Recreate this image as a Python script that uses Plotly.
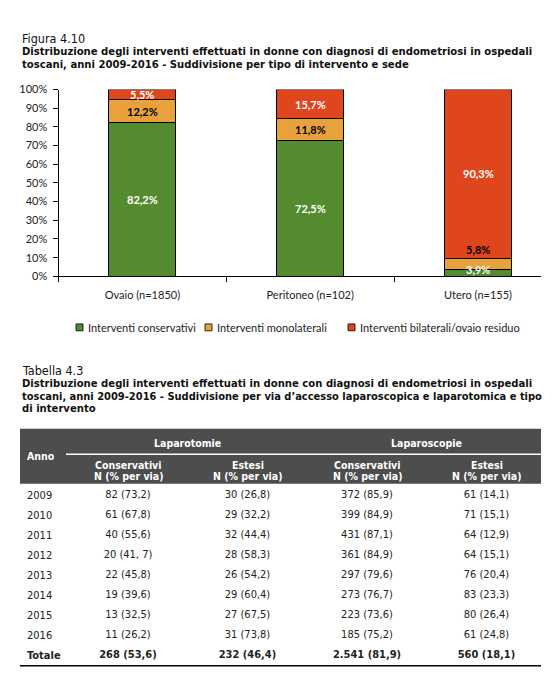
import plotly.graph_objects as go

# ---------------- data ----------------
categories = ["Ovaio (n=1850)", "Peritoneo (n=102)", "Utero (n=155)"]
series_names = ["Interventi conservativi", "Interventi monolaterali",
                "Interventi bilaterali/ovaio residuo"]
conservativi = [82.2, 72.5, 3.9]
monolaterali = [12.2, 11.8, 5.8]
bilaterali = [5.5, 15.7, 90.3]
y_tick_vals = [0, 10, 20, 30, 40, 50, 60, 70, 80, 90, 100]

table_rows = ["2009", "2010", "2011", "2012", "2013", "2014", "2015", "2016", "Totale"]
lapt_cons = ["82 (73,2)", "61 (67,8)", "40 (55,6)", "20 (41, 7)", "22 (45,8)",
             "19 (39,6)", "13 (32,5)", "11 (26,2)", "268 (53,6)"]
lapt_est = ["30 (26,8)", "29 (32,2)", "32 (44,4)", "28 (58,3)", "26 (54,2)",
            "29 (60,4)", "27 (67,5)", "31 (73,8)", "232 (46,4)"]
lsc_cons = ["372 (85,9)", "399 (84,9)", "431 (87,1)", "361 (84,9)", "297 (79,6)",
            "273 (76,7)", "223 (73,6)", "185 (75,2)", "2.541 (81,9)"]
lsc_est = ["61 (14,1)", "71 (15,1)", "64 (12,9)", "64 (15,1)", "76 (20,4)",
           "83 (23,3)", "80 (26,4)", "61 (24,8)", "560 (18,1)"]
group_headers = ["Laparotomie", "Laparoscopie"]
sub_headers = ["Conservativi", "Estesi", "Conservativi", "Estesi"]

# ---------------- style ----------------
W, H = 556, 675
series_colors = ["#558B2F", "#E9A23B", "#E0461E"]
label_colors = ["white", "black", "white"]
CHART_FONT = "Lato, 'Open Sans', sans-serif"
DOC_FONT = "'DejaVu Sans Condensed', 'Liberation Sans', sans-serif"
HEADER_BG = "#4D4D4D"


def px(x):
    return x / W


def py(y):
    return 1 - y / H


fig = go.Figure()

# stacked bars
series = [conservativi, monolaterali, bilaterali]
for name, vals, col in zip(series_names, series, series_colors):
    fig.add_trace(go.Bar(
        x=categories, y=vals, name=name, width=0.4,
        marker=dict(color=col, line=dict(color="black", width=1)),
        showlegend=False, hoverinfo="skip", xaxis="x", yaxis="y"))

annotations = []
# bar labels
for i, cat in enumerate(categories):
    base = 0.0
    for j, vals in enumerate(series):
        v = vals[i]
        txt = f"{v:.1f}".replace(".", ",") + "%"
        ann = dict(x=cat, y=base + v / 2, xref="x", yref="y", text=f"<b>{txt}</b>",
                   showarrow=False, font=dict(family=CHART_FONT, size=11, color=label_colors[j]))
        if v < 7 and j == 1:
            ann.update(y=base + v, yanchor="bottom", yshift=0)
        elif v < 7 and j == 0:
            ann.update(yshift=3)
        annotations.append(ann)
        base += v

# manual legend
legend_text_x = [78, 207, 350]
for name, col, tx in zip(series_names, series_colors, legend_text_x):
    fig.add_shape(type="rect", xref="paper", yref="paper",
                  x0=px(tx - 10), x1=px(tx - 3), y0=py(322), y1=py(315),
                  fillcolor=col, line=dict(color="black", width=0.8))
    annotations.append(dict(x=px(tx), y=py(318.5), xref="paper", yref="paper",
                            xanchor="left", yanchor="middle", text=name, showarrow=False,
                            font=dict(family=CHART_FONT, size=11, color="#222")))

# titles
title_lines = [
    ("Figura 4.10", 23.5, False, 12.5),
    ("Distribuzione degli interventi effettuati in donne con diagnosi di endometriosi in ospedali", 37.5, True, 11.2),
    ("toscani, anni 2009-2016 - Suddivisione per tipo di intervento e sede", 50.5, True, 11.2),
    ("Tabella 4.3", 362, False, 12.5),
    ("Distribuzione degli interventi effettuati in donne con diagnosi di endometriosi in ospedali", 375.5, True, 11.2),
    ("toscani, anni 2009-2016 - Suddivisione per via d\u2019accesso laparoscopica e laparotomica e tipo", 388.5, True, 11),
    ("di intervento", 401, True, 11.2),
]
for txt, yy, bold, sz in title_lines:
    annotations.append(dict(x=px(12), y=py(yy), xref="paper", yref="paper", xanchor="left",
                            yanchor="middle", showarrow=False,
                            text=f"<b>{txt}</b>" if bold else txt,
                            font=dict(family=DOC_FONT, size=sz, color="#111")))

# table header
fig.add_shape(type="rect", xref="paper", yref="paper", x0=px(12), x1=px(533),
              y0=py(478), y1=py(422), fillcolor=HEADER_BG, line=dict(width=0), layer="below")
fig.add_shape(type="line", xref="paper", yref="paper", x0=px(58), x1=px(533),
              y0=py(448), y1=py(448), line=dict(color="white", width=1.5))
fig.add_shape(type="line", xref="paper", yref="paper", x0=px(12), x1=px(533),
              y0=py(663.5), y1=py(663.5), line=dict(color="black", width=1.5))

hdr_font = dict(family=DOC_FONT, size=10.5, color="white")
annotations.append(dict(x=px(17), y=py(450), xref="paper", yref="paper", xanchor="left",
                        yanchor="middle", text="<b>Anno</b>", showarrow=False, font=hdr_font))
for g, gx in zip(group_headers, [1.5, 3.5]):
    annotations.append(dict(x=gx, y=py(436), xref="x2", yref="paper", yanchor="middle",
                            text=f"<b>{g}</b>", showarrow=False, font=hdr_font))
for k, sh in enumerate(sub_headers):
    annotations.append(dict(x=k + 1, y=py(458.5), xref="x2", yref="paper", yanchor="middle",
                            text=f"<b>{sh}</b>", showarrow=False, font=hdr_font))
    annotations.append(dict(x=k + 1, y=py(470), xref="x2", yref="paper", yanchor="middle",
                            text="<b>N (% per via)</b>", showarrow=False, font=hdr_font))

# table body
body_font = dict(family=DOC_FONT, size=11, color="#222")
row_idx = list(range(len(table_rows)))
for r, lab in zip(row_idx, table_rows):
    t = f"<b>{lab}</b>" if lab == "Totale" else lab
    annotations.append(dict(x=px(17), y=r, xref="paper", yref="y2", xanchor="left",
                            yanchor="middle", text=t, showarrow=False, font=body_font))
for k, col in enumerate([lapt_cons, lapt_est, lsc_cons, lsc_est]):
    texts = col[:-1] + [f"<b>{col[-1]}</b>"]
    fig.add_trace(go.Scatter(x=[k + 1] * len(col), y=row_idx, mode="text", text=texts,
                             textposition="middle center", textfont=body_font,
                             showlegend=False, hoverinfo="skip", xaxis="x2", yaxis="y2"))

fig.update_layout(
    width=W, height=H, margin=dict(l=0, r=0, t=0, b=0),
    paper_bgcolor="white", plot_bgcolor="white", barmode="stack", showlegend=False,
    annotations=annotations,
    xaxis=dict(domain=[px(50.5), px(533)], range=[-0.5, 2.375], type="category",
               tickson="boundaries", ticks="outside", ticklen=5, tickcolor="black",
               showline=True, linecolor="black", linewidth=1, showgrid=False,
               ticklabelstandoff=8,
               tickfont=dict(family=CHART_FONT, size=11, color="#222")),
    yaxis=dict(domain=[py(266.5), py(76)], range=[0, 100], tickvals=y_tick_vals,
               ticktext=[f"{v}%" for v in y_tick_vals], ticks="outside", ticklen=5,
               tickcolor="black", showline=True, linecolor="black", linewidth=1,
               showgrid=False, zeroline=False, ticklabelstandoff=3,
               tickfont=dict(family=CHART_FONT, size=11, color="#222")),
    xaxis2=dict(domain=[px(12), px(533)], range=[1 + (12 - 120) / 119.5, 1 + (533 - 120) / 119.5],
                visible=False, anchor="y2"),
    yaxis2=dict(domain=[py(672), py(420)], range=[(672 - 490) / 20.4, (420 - 490) / 20.4],
                visible=False, anchor="x2"),
)

fig.write_html("out.html")
